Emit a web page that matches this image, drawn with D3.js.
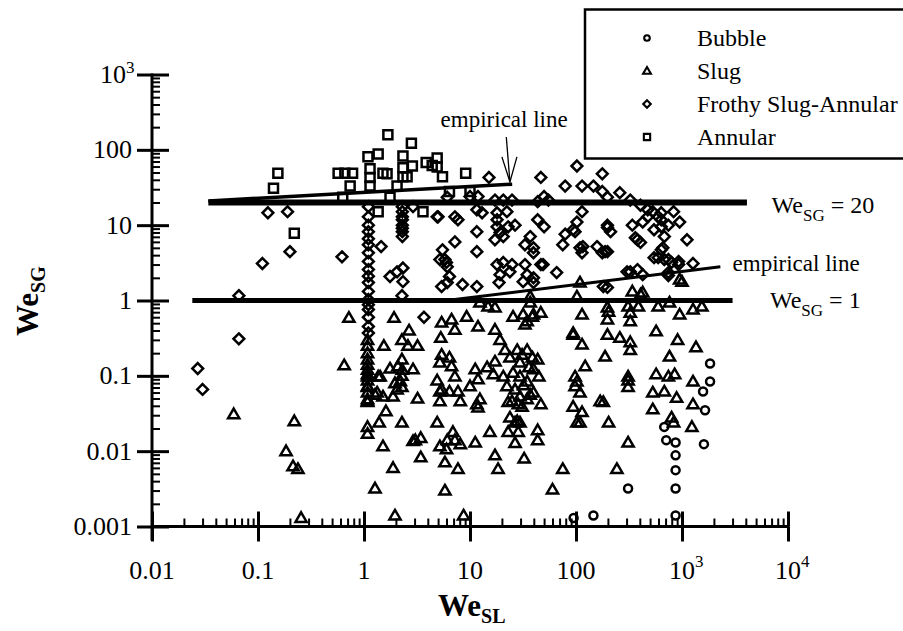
<!DOCTYPE html>
<html>
<head>
<meta charset="utf-8">
<script src="https://cdn.jsdelivr.net/npm/d3@7"></script>
<style>
  body { margin: 0; background: #fff; }
  svg { display: block; }
</style>
</head>
<body>
<svg width="903" height="631" font-family="'Liberation Serif', 'DejaVu Serif', serif"></svg>
<script>
// ---- data: [We_SL, We_SG] ----
let bubble = [
  [1840,0.146],[1840,0.084],[1580,0.062],[1650,0.035],[1610,0.0124],[680,0.021],[710,0.014],
  [870,0.013],[870,0.0088],[870,0.0056],[870,0.0032],[310,0.0032],[146,0.0014],[870,0.0014],[95,0.0013]
]

let slug = [
  [0.059,0.031],[0.22,0.025],[0.184,0.01],[0.214,0.0063],[0.238,0.0058],[0.255,0.0013],[0.72,0.59],[0.65,0.138],
  [1.08,0.30],[1.08,0.25],[1.08,0.165],[1.08,0.14],[1.08,0.105],[1.08,0.098],[1.08,0.087],[1.08,0.073],
  [1.08,0.071],[1.08,0.049],[1.08,0.046],[1.08,0.045],[1.08,0.021],[1.08,0.017],[1.08,0.2],[1.08,0.12],[1.08,0.06],
  [1.54,0.25],[1.92,0.59],[2.66,0.40],[2.28,0.30],[2.6,0.25],[3.2,0.25],
  [2.28,0.165],[1.76,0.125],[2.09,0.134],[2.28,0.1],[1.96,0.08],[2.05,0.066],[2.28,0.071],[2.2,0.085],[2.3,0.12],
  [1.36,0.098],[1.33,0.06],[1.51,0.053],[1.88,0.053],[2.9,0.122],[3.2,0.05],
  [1.61,0.034],[1.39,0.024],[2.28,0.024],[1.51,0.0116],[1.88,0.006],[1.27,0.0032],
  [3.05,0.014],[3.43,0.015],[3.43,0.0083],[1.96,0.0014],[4.9,0.024],
  [5.4,0.51],[5.3,0.32],[5.4,0.19],[5.2,0.15],[4.9,0.087],[5.2,0.062],[5.2,0.046],[5.2,0.0116],[5.8,0.0071],[5.8,0.003],
  [1.27,0.056],[1.42,0.098],
  [6.7,0.56],[7.2,0.41],[9.3,0.61],[11.9,0.45],[17.2,0.41],[19.2,0.30],
  [6.4,0.175],[6.7,0.134],[7.2,0.098],[5.4,0.066],[6.4,0.062],[7.7,0.062],[8.1,0.046],[10,0.073],
  [11.2,0.122],[11.9,0.09],[14.5,0.13],[17.2,0.155],[16.6,0.105],
  [11.6,0.042],[11.9,0.038],[12.4,0.049],
  [6.9,0.018],[6.1,0.014],[6.0,0.0106],[8.1,0.0124],[11.2,0.013],[7.7,0.0058],
  [15.4,0.018],[17.2,0.0088],[18.4,0.0058],
  [21.4,0.22],[23.8,0.175],[27.9,0.22],[29.6,0.15],[34.6,0.22],[38.8,0.175],[43.5,0.165],[39.7,0.122],
  [44.6,0.098],[25.5,0.11],[29.6,0.098],[34.6,0.084],[20.6,0.098],[22.3,0.073],[26.6,0.066],[29.6,0.053],
  [34.6,0.049],[39.7,0.06],[46.6,0.042],[24.9,0.046],[28.5,0.042],[22.9,0.045],[31,0.039],
  [31,0.19],[36,0.13],[32,0.075],[37,0.056],
  [23.8,0.028],[27.9,0.025],[29.6,0.024],[22.9,0.018],[28.5,0.018],[26.6,0.0128],[32.4,0.008],[43.5,0.019],[43.5,0.014],
  [25.5,0.61],[31.7,0.65],[38.8,0.61],[46.6,0.69],[33,0.48],
  [75,0.0058],[60,0.0031],
  [94,0.37],[98,0.098],[98,0.073],[94,0.039],[102,0.024],
  [8.7,0.0014],[2.9,0.0136],[7.2,0.014],[26.6,0.024],
  [34.6,0.53],[39.7,0.65],[37,1.13],[102,1.13],[109,1.73],
  [12.4,0.94],[14.8,0.83],[17.2,0.81],[37,0.94],
  [114,0.65],[94,0.35],[114,0.26],[122,0.134],[102,0.084],[109,0.06],[114,0.033],[109,0.024],[203,0.024],[310,0.013],
  [198,0.81],[198,0.56],[198,0.35],[188,0.18],[169,0.046],[181,0.045],
  [259,0.32],[325,0.28],[325,0.22],[340,1.32],[310,0.83],[325,0.69],[325,0.53],[310,0.098],[310,0.087],[310,0.071],
  [570,0.39],[909,0.30],[762,0.18],[570,0.105],[744,0.098],[852,0.105],[530,0.06],[681,0.062],[890,0.051],
  [530,0.036],[797,0.028],[833,0.024],[1240,0.021],[1270,0.084],[1270,0.042],[1355,0.24],
  [426,1.28],[388,0.83],[596,0.83],[762,0.94],[950,0.65],[1270,0.76],[1540,0.83],[950,1.9],[1000,1.78],
  [243,0.0058],[406,1.2],[203,0.71]
]

let frothy = [
  [0.124,14.6],[0.19,15.1],[0.11,3.1],[0.2,4.45],[0.62,3.8],[0.066,1.16],[0.066,0.31],[0.027,0.125],[0.030,0.066],
  [1.1,17.6],[1.1,12.9],[1.1,10],[1.1,6.6],[1.1,5.5],[1.1,3.3],[1.1,2.57],[1.1,1.73],[1.1,1.32],[1.1,1.03],
  [1.1,0.76],[1.1,0.6],[1.1,0.45],[1.1,0.37],[1.45,5.2],[1.1,8.2],[1.1,4.3],[1.1,2.1],[1.1,0.88],
  [2.3,17.6],[2.3,15.1],[2.3,11.8],[2.3,10],[2.3,8.2],[2.3,7.05],[2.3,12.9],[2.3,9.1],
  [1.76,2.08],[2.05,2.4],[2.33,2.7],[2.33,1.78],[2.28,1.16],
  [3.68,0.6],[4.9,12.9],[5.5,4.7],[5.8,3.5],[6.1,2.8],
  [5.4,1.53],[6.1,1.73],[8.5,1.63],[11.6,1.53],[18.8,1.73],[31.7,1.78],[39.7,1.73],
  [5.2,3.5],[6.0,3.2],[6.4,2.08],[18,3.0],[20.6,3.2],[24.9,3.0],[19.2,2.2],[34.6,2.2],[39.7,2.0],[46.6,3.0],[65.7,2.35],
  [114,4.3],[177,4.3],[198,4.45],[325,2.4],[380,2.57],[426,2.2],[596,3.7],[681,3.5],[797,3.2],[930,3.0],[1270,3.1],[744,2.35],
  [181,1.53],[198,1.49],[744,2.14],
  [15.1,43],[46.6,43],[102,61],[177,48],[79,33],[114,33],[146,33],[177,28],[198,23.5],[259,27],[325,21.5],
  [406,18.4],[475,16],[530,15.1],[637,14.6],[833,15.1],
  [2.9,17.6],[6.1,23.5],[10,24],[11.9,24],[11.6,16],[13,14.6],[17.2,21.5],[20.6,21.5],[24.9,21.5],[18,14.6],
  [22.3,15.1],[43.5,20.5],[50,24],[54.9,21.5],
  [5.0,12.9],[7.2,12.9],[7.7,11.8],[11.6,8.2],[7.2,6.0],[11.6,4.45],[18,11.8],[18,9.5],[19.2,8.0],[22.9,9.5],
  [26.6,10],[17.2,6.4],[20.6,7.05],[37,7.05],[33,5.5],[39.7,5.0],[39.7,4.3],[43.5,11.8],[50,9.5],[79,7.6],
  [75,5.5],[94,8.7],[102,11],[114,15.1],[116,5.2],[158,5.2],[188,4.45],[198,10],[212,8.2],[340,10],[426,11],
  [475,12.9],[406,5.9],[380,6.4],[596,12.9],[637,9.5],[744,10],[950,11],[681,7.05],[637,4.7],[545,3.7],
  [744,3.5],[1115,6.4],[33,3.0],[48.9,3.0],[23.8,2.4],
  [98,8.2],[109,5.0],[198,9.3],[363,6.8],[545,8.7],[637,11.8],[660,5.0],[930,3.3],[303,2.4]
]

let annular = [
  [0.154,49],[0.14,31],[0.22,7.8],[0.57,49],[0.66,49],[0.78,49],[0.74,33],[0.63,23.5],[1.09,81],[1.36,88],
  [1.14,56],[1.14,43],[1.14,33],[1.51,49],[1.65,48],[1.68,158],[2.33,83],[2.33,58],[2.33,44],[2.8,122],
  [2.86,61],[2.05,33],[1.76,23.5],[1.36,15.1],[3.6,15.1],[3.86,68],[4.9,78],[4.9,59],[5.5,44],[2.55,44],
  [4.4,62],[9.1,49],[6.4,28],[10,28]
]

// reference and empirical lines
let we20Line = [[0.034, 20], [4100, 20]]
let we1Line = [[0.024, 1], [3000, 1]]
let empUpper = [[0.034, 21], [25, 35]]
let empLower = [[6, 1.0], [2300, 2.8]]

let xMajor = [0.01, 0.1, 1, 10, 100, 1000, 10000]
let xTickText = ['0.01', '0.1', '1', '10', '100', '10', '10']
let xTickSup = ['', '', '', '', '', '3', '4']
let yMajor = [0.001, 0.01, 0.1, 1, 10, 100, 1000]
let yTickText = ['0.001', '0.01', '0.1', '1', '10', '100', '10']
let yTickSup = ['', '', '', '', '', '', '3']

let legendNames = ['Bubble', 'Slug', 'Frothy Slug-Annular', 'Annular']

let svg = d3.select('svg')

const xScale = d3.scaleLog().domain([0.01, 1e4]).range([152, 788])
const yScale = d3.scaleLog().domain([0.001, 1000]).range([526.5, 74.5])
const y0 = yScale(0.001)
const x0 = xScale(0.01)

// marker shapes
const shapes = {
  circle: 'M4,0A4,4 0 1,1 -4,0A4,4 0 1,1 4,0Z',
  triangle: 'M0,-5.6L5.6,4L-5.6,4Z',
  diamond: 'M0,-5.4L5.4,0L0,5.4L-5.4,0Z',
  square: 'M-4.5,-4.5H4.5V4.5H-4.5Z'
}

// ---- axes ----
const xMinor = xScale.ticks().filter(v => !xMajor.some(m => Math.abs(m - v) / m < 1e-6))
const yMinor = yScale.ticks().filter(v => !yMajor.some(m => Math.abs(m - v) / m < 1e-6))

function styleTicks(g, w) {
  g.select('.domain').remove()
  g.selectAll('line').attr('stroke', '#000').attr('stroke-width', w)
  g.selectAll('text').remove()
}

svg.append('g').attr('transform', `translate(0,${y0})`)
  .call(d3.axisBottom(xScale).tickValues(xMajor).tickSize(15).tickFormat(''))
  .call(g => styleTicks(g, 3))
svg.append('g').attr('transform', `translate(0,${y0})`)
  .call(d3.axisTop(xScale).tickValues(xMajor).tickSize(15).tickFormat(''))
  .call(g => styleTicks(g, 3))
svg.append('g').attr('transform', `translate(0,${y0})`)
  .call(d3.axisTop(xScale).tickValues(xMinor).tickSize(8).tickFormat(''))
  .call(g => styleTicks(g, 2))

svg.append('g').attr('transform', `translate(${x0},0)`)
  .call(d3.axisLeft(yScale).tickValues(yMajor).tickSize(15).tickFormat(''))
  .call(g => styleTicks(g, 3))
svg.append('g').attr('transform', `translate(${x0},0)`)
  .call(d3.axisRight(yScale).tickValues(yMajor).tickSize(17).tickFormat(''))
  .call(g => styleTicks(g, 3))
svg.append('g').attr('transform', `translate(${x0},0)`)
  .call(d3.axisRight(yScale).tickValues(yMinor).tickSize(8).tickFormat(''))
  .call(g => styleTicks(g, 2))

// axis lines
svg.append('line')
  .attr('x1', x0 - 1).attr('x2', xScale(1e4) + 1)
  .attr('y1', y0).attr('y2', y0)
  .attr('stroke', '#000').attr('stroke-width', 3)
svg.append('line')
  .attr('x1', x0).attr('x2', x0)
  .attr('y1', yScale(1000) - 1).attr('y2', y0 + 14)
  .attr('stroke', '#000').attr('stroke-width', 3)

// tick labels
xMajor.forEach((v, i) => {
  svg.append('text')
    .attr('x', xScale(v)).attr('y', 579)
    .attr('text-anchor', 'middle').attr('font-size', 26)
    .text(xTickText[i])
  if (xTickSup[i]) {
    svg.append('text')
      .attr('x', xScale(v) + 13).attr('y', 567)
      .attr('font-size', 17)
      .text(xTickSup[i])
  }
})
yMajor.forEach((v, i) => {
  const sup = yTickSup[i]
  svg.append('text')
    .attr('x', sup ? 126 : 132).attr('y', yScale(v) + 8.5)
    .attr('text-anchor', 'end').attr('font-size', 26)
    .text(yTickText[i])
  if (sup) {
    svg.append('text')
      .attr('x', 126).attr('y', yScale(v) - 2)
      .attr('font-size', 17)
      .text(sup)
  }
})

// axis titles
let yTitle = svg.append('text')
  .attr('transform', 'translate(38,336) rotate(-90)')
  .attr('font-size', 31).attr('font-weight', 'bold')
yTitle.append('tspan').text('We')
yTitle.append('tspan').attr('dy', 7).attr('font-size', 20).text('SG')

let xTitle = svg.append('text')
  .attr('x', 438).attr('y', 616)
  .attr('font-size', 31).attr('font-weight', 'bold')
xTitle.append('tspan').text('We')
xTitle.append('tspan').attr('dy', 7).attr('font-size', 20).text('SL')

// ---- lines ----
const line = d3.line().x(d => xScale(d[0])).y(d => yScale(d[1]))
svg.append('path').attr('d', line(we20Line)).attr('stroke', '#000').attr('stroke-width', 6).attr('fill', 'none')
svg.append('path').attr('d', line(we1Line)).attr('stroke', '#000').attr('stroke-width', 5).attr('fill', 'none')
svg.append('path').attr('d', line(empUpper)).attr('stroke', '#000').attr('stroke-width', 3.5).attr('fill', 'none')
svg.append('path').attr('d', line(empLower)).attr('stroke', '#000').attr('stroke-width', 3).attr('fill', 'none')

// ---- points ----
function drawSeries(data, shape) {
  svg.append('g').selectAll('path')
    .data(data)
    .enter()
    .append('path')
    .attr('d', shapes[shape])
    .attr('transform', d => `translate(${xScale(d[0])},${yScale(d[1])})`)
    .attr('fill', 'none')
    .attr('stroke', '#000')
    .attr('stroke-width', 2.5)
}
drawSeries(slug, 'triangle')
drawSeries(frothy, 'diamond')
drawSeries(annular, 'square')
drawSeries(bubble, 'circle')

// ---- annotations ----
let arrowTail = [22, 148]
let arrowTip = [23.8, 37.5]
const tx = xScale(arrowTip[0]), ty = yScale(arrowTip[1])
svg.append('line')
  .attr('x1', xScale(arrowTail[0])).attr('y1', yScale(arrowTail[1]))
  .attr('x2', tx).attr('y2', ty)
  .attr('stroke', '#000').attr('stroke-width', 1.3)
svg.append('path')
  .attr('d', `M${tx - 8},${ty - 25}L${tx},${ty}L${tx + 7},${ty - 25}`)
  .attr('stroke', '#000').attr('stroke-width', 1.3).attr('fill', 'none')

svg.append('text')
  .attr('x', xScale(21)).attr('y', yScale(200))
  .attr('text-anchor', 'middle').attr('font-size', 23)
  .text('empirical line')
svg.append('text')
  .attr('x', xScale(3000)).attr('y', yScale(2.46))
  .attr('font-size', 23)
  .text('empirical line')

function weLabel(xv, yv, value) {
  let t = svg.append('text')
    .attr('x', xScale(xv)).attr('y', yScale(yv))
    .attr('font-size', 24)
  t.append('tspan').text('We')
  t.append('tspan').attr('dy', 8).attr('font-size', 17).text('SG')
  t.append('tspan').attr('dy', -8).text(' = ' + value)
}
weLabel(7000, 14.5, '20')
weLabel(6760, 0.795, '1')

// ---- legend ----
let legend = svg.append('g')
legend.append('rect')
  .attr('x', 585).attr('y', 9.5)
  .attr('width', 330).attr('height', 149)
  .attr('fill', '#fff').attr('stroke', '#000').attr('stroke-width', 2.5)
const legendShapes = ['circle', 'triangle', 'diamond', 'square']
legendNames.forEach((name, i) => {
  const cy = 38 + i * 33
  legend.append('path')
    .attr('d', shapes[legendShapes[i]])
    .attr('transform', `translate(647,${cy}) scale(0.7)`)
    .attr('fill', 'none').attr('stroke', '#000').attr('stroke-width', 3)
  legend.append('text')
    .attr('x', 697).attr('y', cy + 8)
    .attr('font-size', 24)
    .text(name)
})
</script>
</body>
</html>
